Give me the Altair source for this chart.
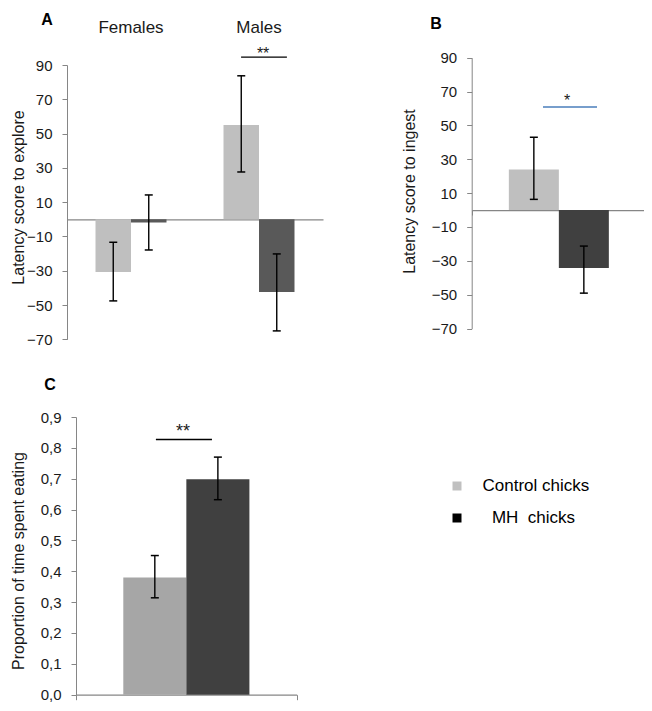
import altair as alt
import pandas as pd

FONT = "Liberation Sans"
TEXT = "#1a1a1a"
AXIS = "#868686"

# ---------------- data ----------------
groups = ["Control chicks", "MH chicks"]
sexes = ["Females", "Males"]

# Panel A: latency score to explore (by sex)
a_sex = ["Females", "Females", "Males", "Males"]
a_group = ["Control chicks", "MH chicks", "Control chicks", "MH chicks"]
a_mean = [-30.7, -1.8, 55.0, -42.4]
a_low = [-47.6, -17.9, 27.6, -65.1]
a_high = [-13.4, 14.2, 83.7, -20.2]

# Panel B: latency score to ingest
b_group = ["Control chicks", "MH chicks"]
b_mean = [24.0, -34.3]
b_low = [6.3, -49.1]
b_high = [43.0, -21.3]

# Panel C: proportion of time spent eating
c_group = ["Control chicks", "MH chicks"]
c_mean = [0.38, 0.698]
c_low = [0.314, 0.632]
c_high = [0.451, 0.770]

latency_ticks = [-70, -50, -30, -10, 10, 30, 50, 70, 90]
proportion_ticks = [0.0, 0.1, 0.2, 0.3, 0.4, 0.5, 0.6, 0.7, 0.8, 0.9]

# significance brackets (x along panel width 0..1, y in data units)
sig_x1 = [0.68, 0.409, 0.362]
sig_x2 = [0.859, 0.719, 0.616]
sig_xt = [0.766, 0.547, 0.485]
sig_y = [94.6, 60.9, 0.827]
sig_text = ["**", "*", "**"]

# panel letters (x along panel width, y in data units)
letters = ["A", "B", "C"]
letter_x = [-0.078, -0.205, -0.118]
letter_y = [116.0, 110.2, 1.005]

# ---------------- layout (plot-area pixels) ----------------
W, H = 636, 695
A_XR, A_YR = [59.0, 315.0], [331.3, 57.0]
B_XR, B_YR = [463.7, 638.0], [320.5, 49.7]
C_XR, C_YR = [68.0, 288.7], [686.7, 409.0]
LAT_DOM = [-70, 90]
PROP_DOM = [0, 0.9]


def px(v, dom, rng):
    return rng[0] + (v - dom[0]) / (dom[1] - dom[0]) * (rng[1] - rng[0])


def y_axis(title, tx, ty, values, offset, label_expr=None):
    kw = dict(orient="left", offset=-offset, values=values, title=title,
              titleX=tx, titleY=ty, tickSize=5, labelPadding=10,
              domainColor=AXIS, tickColor=AXIS, grid=False)
    if label_expr:
        kw["labelExpr"] = label_expr
    return alt.Axis(**kw)


def helper_axis(zero_px, ticks):
    return alt.Axis(orient="bottom", offset=zero_px - H, values=[0, 1],
                    labels=False, ticks=ticks, tickSize=5 if ticks else 0,
                    title=None, grid=False, domainColor=AXIS, domainWidth=1.3,
                    tickColor=AXIS)


def build_panel(df, x_field, x_scale, x_axis, xoff, y_dom, y_rng, y_ax,
                colors, h_rng, h_ax, idx, sig_color, star_size, star_dy):
    def ys():
        return alt.Scale(domain=y_dom, range=y_rng, nice=False, zero=False)

    def X(axis):
        return alt.X(f"{x_field}:N", scale=x_scale, axis=axis)

    extra = {"xOffset": xoff} if xoff is not None else {}
    base = alt.Chart(df)
    bars = base.mark_bar(opacity=1).encode(
        x=X(x_axis),
        y=alt.Y("mean:Q", scale=ys(), axis=y_ax),
        color=alt.Color("group:N", scale=alt.Scale(domain=groups, range=colors), legend=None),
        **extra,
    )
    err = base.mark_rule(color="#000000", strokeWidth=1.4).encode(
        x=X(None), y=alt.Y("low:Q", scale=ys(), axis=None), y2="high:Q", **extra)
    cap_lo = base.mark_tick(color="#000000", size=8, thickness=1.5,
                            orient="horizontal", opacity=1).encode(
        x=X(None), y=alt.Y("low:Q", scale=ys(), axis=None), **extra)
    cap_hi = base.mark_tick(color="#000000", size=8, thickness=1.5,
                            orient="horizontal", opacity=1).encode(
        x=X(None), y=alt.Y("high:Q", scale=ys(), axis=None), **extra)

    def hs():
        return alt.Scale(domain=[0, 1], range=h_rng, nice=False, zero=False)

    sig_df = pd.DataFrame({"x1": [sig_x1[idx]], "x2": [sig_x2[idx]],
                           "xt": [sig_xt[idx]], "y": [sig_y[idx]],
                           "label": [sig_text[idx]]})
    let_df = pd.DataFrame({"x": [letter_x[idx]], "y": [letter_y[idx]],
                           "letter": [letters[idx]]})
    sig = alt.Chart(sig_df).mark_rule(color=sig_color, strokeWidth=1.4).encode(
        x=alt.X("x1:Q", scale=hs(), axis=h_ax), x2="x2:Q",
        y=alt.Y("y:Q", scale=ys(), axis=None))
    star = alt.Chart(sig_df).mark_text(fontSize=star_size, baseline="alphabetic",
                                       dy=star_dy, color=TEXT, font=FONT).encode(
        x=alt.X("xt:Q", scale=hs(), axis=None),
        y=alt.Y("y:Q", scale=ys(), axis=None), text="label:N")
    letter = alt.Chart(let_df).mark_text(fontSize=16, fontWeight="bold",
                                         baseline="middle", color="#000000",
                                         font=FONT).encode(
        x=alt.X("x:Q", scale=hs(), axis=None),
        y=alt.Y("y:Q", scale=ys(), axis=None), text="letter:N")
    return [bars, err, cap_lo, cap_hi, sig, star, letter]


# ---- Panel A ----
dfA = pd.DataFrame({"sex": a_sex, "group": a_group, "mean": a_mean,
                    "low": a_low, "high": a_high})
xA_scale = alt.Scale(domain=sexes, range=A_XR, paddingInner=0, paddingOuter=0)
xA_axis = alt.Axis(orient="top", offset=-A_YR[1], title=None, ticks=False,
                   tickSize=0, domain=False, labelPadding=29, labelFontSize=17,
                   labelAngle=0, labelColor=TEXT)
xoA = alt.XOffset("group:N", scale=alt.Scale(domain=groups, paddingInner=0,
                                             paddingOuter=0.803))
layersA = build_panel(
    dfA, "sex", xA_scale, xA_axis, xoA, LAT_DOM, A_YR,
    y_axis("Latency score to explore", -41, 189, latency_ticks, A_XR[0]),
    ["#bfbfbf", "#595959"], A_XR,
    helper_axis(px(0, LAT_DOM, A_YR), False), 0, "#000000", 16, 2.3)

# ---- Panel B ----
dfB = pd.DataFrame({"group": b_group, "mean": b_mean, "low": b_low, "high": b_high})
xB_scale = alt.Scale(domain=groups, range=B_XR, paddingInner=0, paddingOuter=0.743)
layersB = build_panel(
    dfB, "group", xB_scale, None, None, LAT_DOM, B_YR,
    y_axis("Latency score to ingest", -54.7, 183, latency_ticks, B_XR[0]),
    ["#bfbfbf", "#404040"], B_XR,
    helper_axis(px(0, LAT_DOM, B_YR), True), 1, "#4a7ebb", 16, -0.9)

# ---- Panel C ----
dfC = pd.DataFrame({"group": c_group, "mean": c_mean, "low": c_low, "high": c_high})
xC_scale = alt.Scale(domain=groups, range=C_XR, paddingInner=0, paddingOuter=0.75)
layersC = build_panel(
    dfC, "group", xC_scale, None, None, PROP_DOM, C_YR,
    y_axis("Proportion of time spent eating", -50, 552.5, proportion_ticks,
           C_XR[0], "replace(format(datum.value, '.1f'), '.', ',')"),
    ["#a6a6a6", "#404040"], C_XR,
    helper_axis(px(0, PROP_DOM, C_YR), True), 2, "#000000", 18, -2.4)

# ---- Legend ----
legend_colors = ["#c0c0c0", "#000000"]
leg_df = pd.DataFrame({"group": groups})
legend_layer = alt.Chart(leg_df).mark_square(opacity=0).encode(
    color=alt.Color(
        "group:N",
        scale=alt.Scale(domain=groups, range=legend_colors),
        legend=alt.Legend(
            title=None, orient="none", legendX=440.5, legendY=469.5,
            symbolSize=81, symbolType="square", symbolStrokeWidth=0,
            labelFontSize=17, labelColor="#000000", labelFont=FONT,
            labelOffset=17, rowPadding=14, padding=0,
            labelExpr="datum.label == 'MH chicks' ? '\u200b\u00a0\u00a0MH\u00a0 chicks' : datum.label",
        ),
    )
)

chart = (
    alt.layer(*layersA, *layersB, *layersC, legend_layer)
    .resolve_scale(x="independent", y="independent", color="independent",
                   xOffset="independent")
    .resolve_axis(x="independent", y="independent")
    .properties(width=W, height=H, autosize=alt.AutoSizeParams(type="none"),
                padding=0, background="#ffffff")
    .configure_view(stroke=None)
    .configure_axis(labelFont=FONT, titleFont=FONT, labelColor=TEXT,
                    titleColor=TEXT, labelFontSize=15, titleFontSize=16,
                    titleFontWeight="normal", grid=False)
)

chart.save("out.html", embed_options={"renderer": "svg", "actions": False})
